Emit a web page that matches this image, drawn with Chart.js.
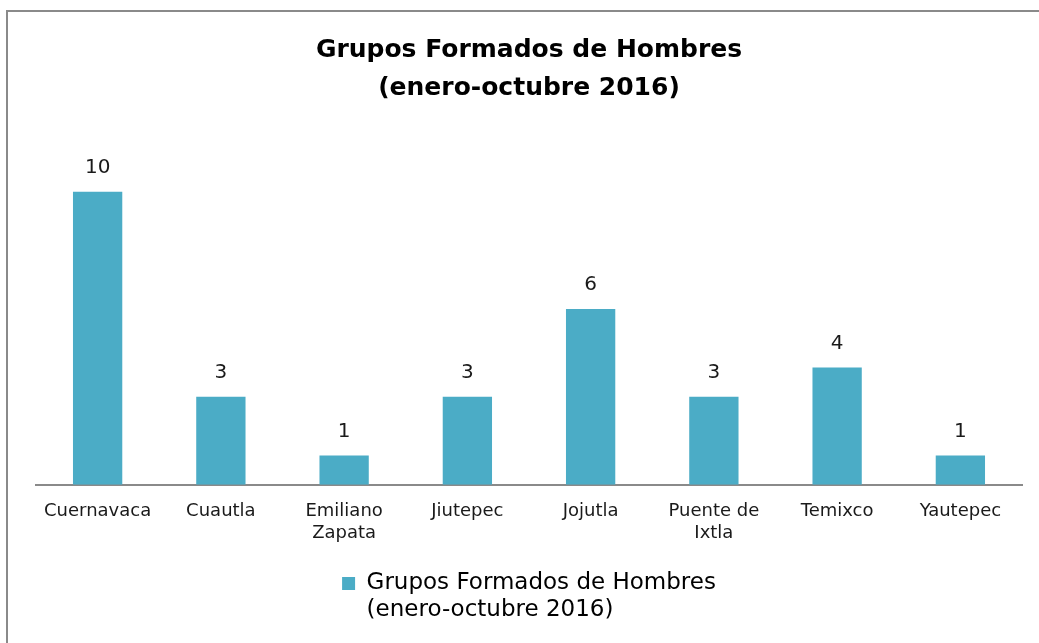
<!DOCTYPE html>
<html>
<head>
<meta charset="utf-8">
<script src="https://cdn.jsdelivr.net/npm/chart.js@4.4.0/dist/chart.umd.min.js"></script>
<style>
  body { margin: 0; background: #fff; overflow: hidden; }
  #wrap { position: relative; width: 1039px; height: 643px; }
  #frame { position: absolute; left: 6px; top: 10px; width: 1100px; height: 700px;
           border-left: 2px solid #8a8a8a; border-top: 2px solid #8a8a8a; }
  #myChart { position: absolute; left: 0; top: 0; }
</style>
</head>
<body>
<div id="wrap">
  <div id="frame"></div>
  <canvas id="myChart" width="1039" height="643"></canvas>
</div>
<script>
var municipios = ["Cuernavaca", "Cuautla", ["Emiliano", "Zapata"], "Jiutepec", "Jojutla", ["Puente de", "Ixtla"], "Temixco", "Yautepec"];
var grupos = [10, 3, 1, 3, 6, 3, 4, 1];
var serieNombre = "Grupos Formados de Hombres (enero-octubre 2016)";
var titulo = ["Grupos Formados de Hombres", "(enero-octubre 2016)"];
var leyenda = ["Grupos Formados de Hombres", "(enero-octubre 2016)"];

var fuente = "'DejaVu Sans', sans-serif";
var colorBarra = "#4bacc6";

// etiquetas de valor encima de cada barra
const valoresArriba = {
    id: "valoresArriba",
    afterDatasetsDraw(chart) {
        const ctx = chart.ctx;
        const meta = chart.getDatasetMeta(0);
        ctx.save();
        ctx.font = "20px " + fuente;
        ctx.fillStyle = "#1a1a1a";
        ctx.textAlign = "center";
        ctx.textBaseline = "bottom";
        meta.data.forEach((bar, i) => {
            ctx.fillText(chart.data.datasets[0].data[i], bar.x, bar.y - 14);
        });
        ctx.restore();
    }
};

// la leyenda de varias lineas se mide mal (mide el array entero), se corrige ancho y alto
const anchoLeyenda = {
    id: "anchoLeyenda",
    beforeDraw(chart) {
        const lg = chart.legend;
        if (!lg || !lg.lineWidths) return;
        const opts = lg.options.labels;
        const ctx = chart.ctx;
        ctx.save();
        ctx.font = opts.font.size + "px " + fuente;
        let w = 0;
        leyenda.forEach(t => { w = Math.max(w, ctx.measureText(t).width); });
        ctx.restore();
        lg.lineWidths[0] = opts.boxWidth + opts.font.size / 2 + w + opts.padding;
        lg.bottom = chart.height;
        lg.height = lg.bottom - lg.top;
    }
};

new Chart("myChart", {
    type: "bar",
    data: {
        labels: municipios,
        datasets: [{
            label: serieNombre,
            data: grupos,
            backgroundColor: colorBarra,
            barPercentage: 0.4,
            categoryPercentage: 1
        }]
    },
    options: {
        responsive: false,
        animation: false,
        layout: { padding: { left: 36, right: 17, top: 12, bottom: 38 } },
        scales: {
            x: {
                grid: { display: false, drawTicks: false },
                border: { display: true, color: "#8a8a8a", width: 2 },
                ticks: { color: "#1a1a1a", font: { family: fuente, size: 18, lineHeight: 1.2 }, padding: 16, maxRotation: 0 }
            },
            y: {
                display: false,
                min: 0,
                max: 12
            }
        },
        plugins: {
            title: {
                display: true,
                text: titulo,
                color: "#000",
                font: { family: fuente, size: 25, weight: "bold", lineHeight: 1.5 },
                padding: { top: 20, bottom: 26 }
            },
            legend: {
                position: "bottom",
                labels: {
                    color: "#1a1a1a",
                    font: { family: fuente, size: 23, lineHeight: 1.17 },
                    boxWidth: 13,
                    boxHeight: 13,
                    padding: 12,
                    generateLabels(chart) {
                        return [{
                            text: leyenda,
                            fillStyle: colorBarra,
                            strokeStyle: colorBarra,
                            lineWidth: 0,
                            datasetIndex: 0
                        }];
                    }
                }
            },
            tooltip: { enabled: false }
        }
    },
    plugins: [valoresArriba, anchoLeyenda]
});
</script>
</body>
</html>
